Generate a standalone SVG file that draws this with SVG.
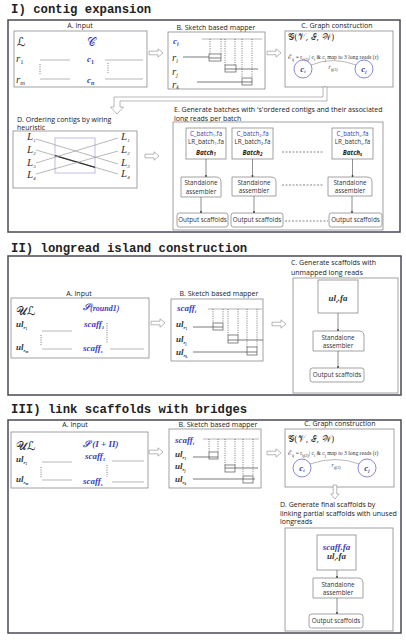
<svg xmlns="http://www.w3.org/2000/svg" width="406" height="640" viewBox="0 0 406 640">
<defs>
<style>
.title{font-family:"Liberation Mono",monospace;font-weight:bold;font-size:12.3px;fill:#222}
.frame{fill:#fff;stroke:#4a4a55;stroke-width:1.5}
.box{fill:#fff;stroke:#8a8a8a;stroke-width:0.8}
.lbl{font-family:"Open Sans","Noto Sans",sans-serif;font-size:7px;fill:#222}
.sm{font-family:"Open Sans","Noto Sans",sans-serif;font-size:6.3px;fill:#333}
.smb{font-family:"Open Sans","Noto Sans",sans-serif;font-size:6.2px;fill:#3d3db5}
.bat{font-family:"Open Sans","Noto Sans",sans-serif;font-size:6.4px;font-weight:bold;font-style:italic;fill:#222}
.mi{font-family:"Liberation Serif","DejaVu Serif",serif;font-style:italic;font-size:11px;fill:#333}
.gx{font-family:"DejaVu Serif",serif;font-size:9px;fill:#333}
.mib{font-family:"Liberation Serif","DejaVu Serif",serif;font-style:italic;font-weight:bold;font-size:9px;fill:#3d3db5}
.mk{font-family:"Liberation Serif","DejaVu Serif",serif;font-style:italic;font-weight:bold;font-size:9px;fill:#333}
.cal{font-family:"DejaVu Serif","DejaVu Sans",serif;font-size:12px;fill:#222}
.calb{font-family:"DejaVu Serif","DejaVu Sans",serif;font-size:12px;fill:#3d3db5}
.fm{font-family:"Liberation Serif","DejaVu Serif",serif;font-size:5.6px;fill:#333}
.ln{stroke:#999;stroke-width:0.7;fill:none}
.lnd{stroke:#444;stroke-width:0.7;fill:none}
.dot{stroke:#555;stroke-width:0.8;stroke-dasharray:1,1.3;fill:none}
.dash{stroke:#555;stroke-width:0.7;stroke-dasharray:2,1.5;fill:none}
.rc{fill:#fff;stroke:#555;stroke-width:0.7}
.circ{fill:#fff;stroke:#6b6bc0;stroke-width:0.8}
.ha{fill:#fff;stroke:#999;stroke-width:0.7}
.sa{stroke:#444;stroke-width:0.6;fill:none}
</style>
<path id="harrow" class="ha" d="M0,-1.8 H9 V-4.2 L14,0 L9,4.2 V1.8 H0 Z"/>
<marker id="tip" markerWidth="4" markerHeight="4" refX="2" refY="2" orient="auto" markerUnits="userSpaceOnUse"><circle cx="2" cy="2" r="0.9" fill="#333"/></marker>
</defs>
<rect width="406" height="640" fill="#fff"/>

<!-- ================= SECTION I ================= -->
<text class="title" x="11" y="13">I) contig expansion</text>
<rect id="frame1" class="frame" x="8" y="20" width="392" height="212"/>

<g id="I-A">
<text class="lbl" x="80" y="28" text-anchor="middle">A. Input</text>
<rect class="box" x="14" y="31" width="133" height="56"/>
<text class="cal" x="17" y="46">ℒ</text>
<text class="calb" x="87" y="46">𝒞</text>
<text class="mi" x="16" y="62">r<tspan font-size="6.5" font-style="normal" dy="2">1</tspan></text>
<text class="mi" x="16" y="83">r<tspan font-size="6.5" dy="2">m</tspan></text>
<text class="mib" x="87" y="62" font-size="10">c<tspan font-size="6" font-style="normal" dy="2">1</tspan></text>
<text class="mib" x="87" y="83" font-size="10">c<tspan font-size="6" dy="2">n</tspan></text>
<line class="ln" x1="40" y1="60" x2="70" y2="60"/>
<line class="ln" x1="40" y1="79" x2="70" y2="79"/>
<line class="ln" x1="105" y1="60" x2="143" y2="60"/>
<line class="ln" x1="105" y1="79" x2="143" y2="79"/>
<line class="dot" x1="40" y1="64" x2="40" y2="75"/>
<line class="dot" x1="108" y1="63" x2="108" y2="73"/>
</g>

<g id="I-B">
<text class="lbl" x="216" y="30" text-anchor="middle">B. Sketch based mapper</text>
<rect class="box" x="168" y="32" width="97" height="57"/>
<text class="mib" x="173" y="44" font-size="10.5">c<tspan font-size="6" dy="2">i</tspan></text>
<text class="mi" x="172" y="61">r<tspan font-size="6" dy="2">i</tspan></text>
<text class="mi" x="172" y="75">r<tspan font-size="6" dy="2">j</tspan></text>
<text class="mi" x="172" y="88">r<tspan font-size="6" dy="1">k</tspan></text>
<line class="ln" x1="202" y1="39" x2="262" y2="39"/>
<line class="lnd" x1="183" y1="57" x2="210" y2="57"/>
<line class="lnd" x1="225" y1="69" x2="258" y2="69"/>
<line class="lnd" x1="197" y1="82" x2="250" y2="82"/>
<line class="dot" x1="210" y1="39" x2="210" y2="54"/>
<line class="dot" x1="221" y1="39" x2="221" y2="54"/>
<line class="dot" x1="225" y1="39" x2="225" y2="65"/>
<line class="dot" x1="235" y1="39" x2="235" y2="65"/>
<line class="dot" x1="242" y1="39" x2="242" y2="78"/>
<line class="dot" x1="252" y1="39" x2="252" y2="78"/>
<rect class="rc" x="209" y="54" width="12" height="7"/><line class="lnd" x1="209" y1="58" x2="221" y2="58"/>
<rect class="rc" x="225" y="65" width="11" height="7"/><line class="lnd" x1="225" y1="69" x2="236" y2="69"/>
<rect class="rc" x="242" y="78" width="10" height="7"/><line class="lnd" x1="242" y1="82" x2="252" y2="82"/>
</g>

<g id="I-C">
<text class="lbl" x="337" y="28" text-anchor="middle">C. Graph construction</text>
<rect class="box" x="285" y="31" width="108" height="56"/>
<text class="gx" x="288" y="40">𝒢(𝒱, ℰ, 𝒲)</text>
<text class="fm" x="288" y="59"><tspan font-family="DejaVu Serif" font-size="6.5">ℰ</tspan><tspan font-size="4" dy="1.5">ij</tspan><tspan dy="-1.5"> = r</tspan><tspan font-size="4" dy="1.5">ij(3)</tspan><tspan dy="-1.5">| c</tspan><tspan font-size="4" dy="1.5">i</tspan><tspan dy="-1.5"> &amp; c</tspan><tspan font-size="4" dy="1.5">j</tspan><tspan dy="-1.5"> map to 3 long reads (r)</tspan></text>
<path class="ln" d="M311,65 Q333,56 356,65"/>
<text class="fm" x="333" y="69" text-anchor="middle" font-style="italic">r<tspan font-size="4" dy="1.5">ij(3)</tspan></text>
<circle class="circ" cx="303" cy="69" r="9"/>
<circle class="circ" cx="364" cy="69" r="9"/>
<text class="mib" x="303" y="71.5" text-anchor="middle" font-size="7">c<tspan font-size="4.5" dy="1.5">i</tspan></text>
<text class="mib" x="364" y="71.5" text-anchor="middle" font-size="7">c<tspan font-size="4.5" dy="1.5">j</tspan></text>
</g>

<g id="I-D">
<text class="lbl" x="17" y="122">D. Ordering contigs by wiring</text>
<text class="lbl" x="17" y="129.5">heuristic</text>
<rect class="box" x="13" y="131" width="124" height="57"/>
<rect x="55" y="138" width="40" height="35" fill="none" stroke="#b4acdc" stroke-width="0.8"/>
<line class="ln" x1="36" y1="139" x2="118" y2="164"/>
<line class="ln" x1="36" y1="150" x2="118" y2="174"/>
<line x1="55" y1="155.6" x2="95" y2="167.3" stroke="#333" stroke-width="1.3"/>
<line class="ln" x1="36" y1="163" x2="118" y2="138"/>
<line class="ln" x1="36" y1="174" x2="118" y2="151"/>
<g class="mi" font-size="8">
<text x="27" y="140">L<tspan font-size="5" dy="1.5">1</tspan></text>
<text x="27" y="153">L<tspan font-size="5" dy="1.5">2</tspan></text>
<text x="27" y="166">L<tspan font-size="5" dy="1.5">3</tspan></text>
<text x="27" y="178">L<tspan font-size="5" dy="1.5">4</tspan></text>
<text x="121" y="140">L<tspan font-size="5" dy="1.5">1</tspan></text>
<text x="121" y="153">L<tspan font-size="5" dy="1.5">2</tspan></text>
<text x="121" y="166">L<tspan font-size="5" dy="1.5">3</tspan></text>
<text x="121" y="177">L<tspan font-size="5" dy="1.5">4</tspan></text>
</g>
</g>

<g id="I-E">
<text class="lbl" x="174" y="112" font-size="6.7">E. Generate batches with  's'ordered contigs and their associated</text>
<text class="lbl" x="174" y="120.5" font-size="6.7">long reads per batch</text>
<rect class="box" x="173" y="122" width="210" height="108"/>
</g>
<g id="batch1">
<rect class="box" x="186" y="128" width="40" height="31"/>
<text class="smb" x="206" y="136" text-anchor="middle">C_batch<tspan font-size="4" dy="1">1</tspan><tspan dy="-1">.fa</tspan></text>
<text class="sm" x="206" y="144" text-anchor="middle" font-size="6.2">LR_batch<tspan font-size="4" dy="1">1</tspan><tspan dy="-1">.fa</tspan></text>
<text class="bat" x="206" y="155" text-anchor="middle">Batch<tspan font-size="4.5" dy="1">1</tspan></text>
</g>
<g id="batch2">
<rect class="box" x="232" y="128" width="41" height="31"/>
<text class="smb" x="252.5" y="136" text-anchor="middle">C_batch<tspan font-size="4" dy="1">2</tspan><tspan dy="-1">.fa</tspan></text>
<text class="sm" x="252.5" y="144" text-anchor="middle" font-size="6.2">LR_batch<tspan font-size="4" dy="1">2</tspan><tspan dy="-1">.fa</tspan></text>
<text class="bat" x="252.5" y="155" text-anchor="middle">Batch<tspan font-size="4.5" dy="1">2</tspan></text>
</g>
<g id="batchs">
<rect class="box" x="332" y="128" width="41" height="31"/>
<text class="smb" x="352.5" y="136" text-anchor="middle">C_batch<tspan font-size="4" dy="1">s</tspan><tspan dy="-1">.fa</tspan></text>
<text class="sm" x="352.5" y="144" text-anchor="middle" font-size="6.2">LR_batch<tspan font-size="4" dy="1">s</tspan><tspan dy="-1">.fa</tspan></text>
<text class="bat" x="352.5" y="155" text-anchor="middle">Batch<tspan font-size="4.5" dy="1">s</tspan></text>
</g>
<g id="asm1">
<path class="box" d="M181,177 H216 Q221,177 221,182 V197 H181 Z"/>
<text class="sm" x="201" y="185" text-anchor="middle">Standalone</text>
<text class="sm" x="201" y="193.5" text-anchor="middle">assembler</text>
</g>
<g id="asm2">
<path class="box" d="M232,177 H271 Q276,177 276,182 V196 H232 Z"/>
<text class="sm" x="254" y="185" text-anchor="middle">Standalone</text>
<text class="sm" x="254" y="193" text-anchor="middle">assembler</text>
</g>
<g id="asms">
<path class="box" d="M328,177 H367 Q372,177 372,182 V196 H328 Z"/>
<text class="sm" x="350" y="185" text-anchor="middle">Standalone</text>
<text class="sm" x="350" y="193" text-anchor="middle">assembler</text>
</g>
<g id="out1">
<rect class="box" x="177" y="213" width="51" height="14" rx="2.5"/>
<text class="sm" x="202.5" y="222.3" text-anchor="middle">Output scaffolds</text>
</g>
<g id="out2">
<rect class="box" x="231" y="213" width="52" height="14" rx="2.5"/>
<text class="sm" x="257" y="222.3" text-anchor="middle">Output scaffolds</text>
</g>
<g id="outs">
<rect class="box" x="329" y="213" width="53" height="14" rx="2.5"/>
<text class="sm" x="355.5" y="222.3" text-anchor="middle">Output scaffolds</text>
</g>

<!-- ================= SECTION II ================= -->
<text class="title" x="11" y="252">II) longread island construction</text>
<rect id="frame2" class="frame" x="8" y="256" width="393" height="139"/>

<g id="II-A">
<text class="lbl" x="79" y="296" text-anchor="middle">A. Input</text>
<rect class="box" x="11" y="298" width="138" height="60"/>
<text class="cal" x="16" y="315">𝒰ℒ</text>
<text class="mib" x="83" y="310">𝒮<tspan font-size="8" dy="1">(round1)</tspan></text>
<text class="mk" x="16" y="327">ul<tspan font-size="5" dy="2">r</tspan><tspan font-size="3.5" dy="1">1</tspan></text>
<text class="mk" x="16" y="350">ul<tspan font-size="5" dy="2">r</tspan><tspan font-size="3.5" dy="1">m</tspan></text>
<text class="mib" x="84" y="327">scaff<tspan font-size="5" dy="2">1</tspan></text>
<text class="mib" x="83" y="351">scaff<tspan font-size="5" dy="2">s</tspan></text>
<line class="ln" x1="42" y1="331" x2="72" y2="331" stroke="#ddd"/>
<line class="ln" x1="42" y1="349" x2="72" y2="349"/>
<line class="ln" x1="110" y1="349" x2="144" y2="349"/>
<line class="dot" x1="41" y1="335" x2="41" y2="346"/>
<line class="dot" x1="107" y1="323" x2="107" y2="343"/>
</g>

<g id="II-B">
<text class="lbl" x="219" y="296" text-anchor="middle">B. Sketch based mapper</text>
<rect class="box" x="171" y="299" width="92" height="62"/>
<text class="mib" x="177" y="311">scaff<tspan font-size="5" dy="2">i</tspan></text>
<text class="mk" x="176" y="327">ul<tspan font-size="5" dy="2">r</tspan><tspan font-size="3.5" dy="1">1</tspan></text>
<text class="mk" x="176" y="342">ul<tspan font-size="5" dy="2">r</tspan><tspan font-size="3.5" dy="1">j</tspan></text>
<text class="mk" x="176" y="355">ul<tspan font-size="5" dy="2">r</tspan><tspan font-size="3.5" dy="1">k</tspan></text>
<line class="ln" x1="208" y1="309" x2="262" y2="309"/>
<line class="lnd" x1="193" y1="327" x2="214" y2="327"/>
<line class="lnd" x1="228" y1="340" x2="263" y2="340"/>
<line class="lnd" x1="193" y1="352" x2="257" y2="352"/>
<line class="dot" x1="213" y1="309" x2="213" y2="323"/>
<line class="dot" x1="223" y1="309" x2="223" y2="323"/>
<line class="dot" x1="228" y1="309" x2="228" y2="335"/>
<line class="dot" x1="238" y1="309" x2="238" y2="335"/>
<line class="dot" x1="247" y1="309" x2="247" y2="347"/>
<line class="dot" x1="257" y1="309" x2="257" y2="347"/>
<rect class="rc" x="213" y="323" width="10" height="7"/><line class="lnd" x1="213" y1="327" x2="223" y2="327"/>
<rect class="rc" x="228" y="335" width="10" height="8"/><line class="lnd" x1="228" y1="340" x2="238" y2="340"/>
<rect class="rc" x="247" y="347" width="10" height="8"/><line class="lnd" x1="247" y1="352" x2="257" y2="352"/>
</g>

<g id="II-C">
<text class="lbl" x="291" y="265">C. Generate scaffolds with</text>
<text class="lbl" x="291" y="275">unmapped long reads</text>
<rect class="box" x="293" y="278" width="105" height="115"/>
</g>
<g id="II-ulr">
<rect class="box" x="318" y="280" width="40" height="33"/>
<text class="mk" x="338" y="301" text-anchor="middle" font-size="8">ul<tspan font-size="5" dy="1.5">r</tspan><tspan dy="-1.5">.fa</tspan></text>
</g>
<g id="II-asm">
<path class="box" d="M313,331 H359 Q364,331 364,336 V351 H313 Z"/>
<text class="sm" x="338" y="339.5" text-anchor="middle">Standalone</text>
<text class="sm" x="338" y="348" text-anchor="middle">assembler</text>
</g>
<g id="II-out">
<rect class="box" x="310" y="368" width="54" height="14" rx="2.5"/>
<text class="sm" x="337" y="377.3" text-anchor="middle">Output scaffolds</text>
</g>

<!-- ================= SECTION III ================= -->
<text class="title" x="11" y="413">III) link scaffolds with bridges</text>
<rect id="frame3" class="frame" x="8" y="420" width="393" height="213"/>

<g id="III-A">
<text class="lbl" x="75" y="427" text-anchor="middle">A. Input</text>
<rect class="box" x="11" y="432" width="137" height="56"/>
<text class="cal" x="16" y="450">𝒰ℒ</text>
<text class="mib" x="83" y="447" font-size="10">𝒮 (<tspan>I</tspan> + <tspan>II</tspan>)</text>
<text class="mk" x="16" y="462">ul<tspan font-size="5" dy="2">r</tspan><tspan font-size="3.5" dy="1">1</tspan></text>
<text class="mk" x="16" y="482">ul<tspan font-size="5" dy="2">r</tspan><tspan font-size="3.5" dy="1">m</tspan></text>
<text class="mib" x="85" y="459">scaff<tspan font-size="5" dy="2">1</tspan></text>
<text class="mib" x="83" y="484">scaff<tspan font-size="5" dy="2">s</tspan></text>
<line class="ln" x1="42" y1="462" x2="72" y2="462" stroke="#ccc"/>
<line class="ln" x1="42" y1="480" x2="72" y2="480"/>
<line class="ln" x1="112" y1="461" x2="144" y2="461" stroke="#ccc"/>
<line class="ln" x1="112" y1="482" x2="144" y2="482" stroke="#ccc"/>
<line class="dot" x1="41" y1="467" x2="41" y2="478"/>
<line class="dot" x1="107" y1="465" x2="107" y2="477"/>
</g>

<g id="III-B">
<text class="lbl" x="218" y="427" text-anchor="middle">B. Sketch based mapper</text>
<rect class="box" x="169" y="429" width="92" height="59"/>
<text class="mib" x="175" y="443">scaff<tspan font-size="5" dy="2">i</tspan></text>
<text class="mk" x="175" y="457">ul<tspan font-size="5" dy="2">r</tspan><tspan font-size="3.5" dy="1">1</tspan></text>
<text class="mk" x="175" y="469">ul<tspan font-size="5" dy="2">r</tspan><tspan font-size="3.5" dy="1">j</tspan></text>
<text class="mk" x="175" y="482">ul<tspan font-size="5" dy="2">r</tspan><tspan font-size="3.5" dy="1">k</tspan></text>
<line class="ln" x1="203" y1="439" x2="259" y2="439"/>
<line class="lnd" x1="193" y1="457" x2="210" y2="457"/>
<line class="lnd" x1="225" y1="468" x2="258" y2="468"/>
<line class="lnd" x1="193" y1="479" x2="255" y2="479"/>
<line class="dot" x1="209" y1="439" x2="209" y2="452"/>
<line class="dot" x1="218" y1="439" x2="218" y2="452"/>
<line class="dot" x1="225" y1="439" x2="225" y2="465"/>
<line class="dot" x1="235" y1="439" x2="235" y2="465"/>
<line class="dot" x1="243" y1="439" x2="243" y2="476"/>
<line class="dot" x1="253" y1="439" x2="253" y2="476"/>
<rect class="rc" x="209" y="452" width="9" height="7"/><line class="lnd" x1="209" y1="457" x2="218" y2="457"/>
<rect class="rc" x="225" y="465" width="10" height="7"/><line class="lnd" x1="225" y1="468" x2="235" y2="468"/>
<rect class="rc" x="243" y="476" width="10" height="7"/><line class="lnd" x1="243" y1="479" x2="253" y2="479"/>
</g>

<g id="III-C">
<text class="lbl" x="340" y="426" text-anchor="middle">C. Graph construction</text>
<rect class="box" x="285" y="429" width="109" height="58"/>
<text class="gx" x="288" y="442">𝒢(𝒱, ℰ, 𝒲)</text>
<text class="fm" x="288" y="455"><tspan font-family="DejaVu Serif" font-size="6.5">ℰ</tspan><tspan font-size="4" dy="1.5">ij</tspan><tspan dy="-1.5"> = r</tspan><tspan font-size="4" dy="1.5">ij(3)</tspan><tspan dy="-1.5">| c</tspan><tspan font-size="4" dy="1.5">i</tspan><tspan dy="-1.5"> &amp; c</tspan><tspan font-size="4" dy="1.5">j</tspan><tspan dy="-1.5"> map to 3 long reads (r)</tspan></text>
<path class="ln" d="M310,464 Q336,455 359,464"/>
<text class="fm" x="336" y="467" text-anchor="middle" font-style="italic">r<tspan font-size="4" dy="1.5">ij(3)</tspan></text>
<circle class="circ" cx="302" cy="468" r="9"/>
<circle class="circ" cx="367" cy="468" r="9"/>
<text class="mib" x="302" y="470.5" text-anchor="middle" font-size="7">c<tspan font-size="4.5" dy="1.5">i</tspan></text>
<text class="mib" x="367" y="470.5" text-anchor="middle" font-size="7">c<tspan font-size="4.5" dy="1.5">j</tspan></text>
</g>

<g id="III-D">
<text class="lbl" x="280" y="507" font-size="6.8">D. Generate final scaffolds by</text>
<text class="lbl" x="280" y="515.5" font-size="6.8">linking partial scaffolds with unused</text>
<text class="lbl" x="280" y="524" font-size="6.8">longreads</text>
<rect class="box" x="285" y="528" width="108" height="103"/>
</g>
<g id="III-in">
<rect class="box" x="317" y="535" width="39" height="35"/>
<text class="mib" x="336.5" y="550" text-anchor="middle" font-size="7.5">scaff.fa</text>
<text class="mk" x="336.5" y="559" text-anchor="middle" font-size="7.5">ul<tspan font-size="4.5" dy="1.5">r</tspan><tspan dy="-1.5">.fa</tspan></text>
</g>
<g id="III-asm">
<path class="box" d="M313,578 H358 Q363,578 363,583 V598 H313 Z"/>
<text class="sm" x="338" y="586.5" text-anchor="middle">Standalone</text>
<text class="sm" x="338" y="595" text-anchor="middle">assembler</text>
</g>
<g id="III-out">
<rect class="box" x="309" y="614" width="54" height="14" rx="2.5"/>
<text class="sm" x="336" y="623.3" text-anchor="middle">Output scaffolds</text>
</g>

<!-- ================= CONNECTORS ================= -->
<g id="connectors">
<use href="#harrow" transform="translate(149,53)"/>
<use href="#harrow" transform="translate(267,53)"/>
<path class="ha" d="M323,87 V97 H114 V107 H110.5 L117,114 L123.5,107 H120 V101 H327 V87 Z"/>
<use href="#harrow" transform="translate(145,156)"/>
<line class="sa" x1="206" y1="159" x2="206" y2="176" marker-end="url(#tip)"/>
<line class="sa" x1="201" y1="197" x2="201" y2="212" marker-end="url(#tip)"/>
<line class="sa" x1="252.5" y1="159" x2="252.5" y2="176" marker-end="url(#tip)"/>
<line class="sa" x1="254" y1="196" x2="254" y2="212" marker-end="url(#tip)"/>
<line class="sa" x1="352.5" y1="159" x2="352.5" y2="176" marker-end="url(#tip)"/>
<line class="sa" x1="352" y1="196" x2="352" y2="212" marker-end="url(#tip)"/>
<line class="dash" x1="282" y1="152" x2="324" y2="152"/>
<line class="dash" x1="282" y1="185" x2="324" y2="185"/>
<line class="dash" x1="285" y1="221" x2="328" y2="221"/>

<use href="#harrow" transform="translate(151,323)"/>
<use href="#harrow" transform="translate(272,324)"/>
<line class="sa" x1="338" y1="313" x2="338" y2="330" marker-end="url(#tip)"/>
<line class="sa" x1="338" y1="351" x2="338" y2="367" marker-end="url(#tip)"/>

<use href="#harrow" transform="translate(149,452)"/>
<use href="#harrow" transform="translate(267,453)"/>
<use href="#harrow" transform="translate(335,485) rotate(90)"/>
<line class="sa" x1="337" y1="570" x2="337" y2="577" marker-end="url(#tip)"/>
<line class="sa" x1="337" y1="598" x2="337" y2="613" marker-end="url(#tip)"/>
</g>
</svg>
